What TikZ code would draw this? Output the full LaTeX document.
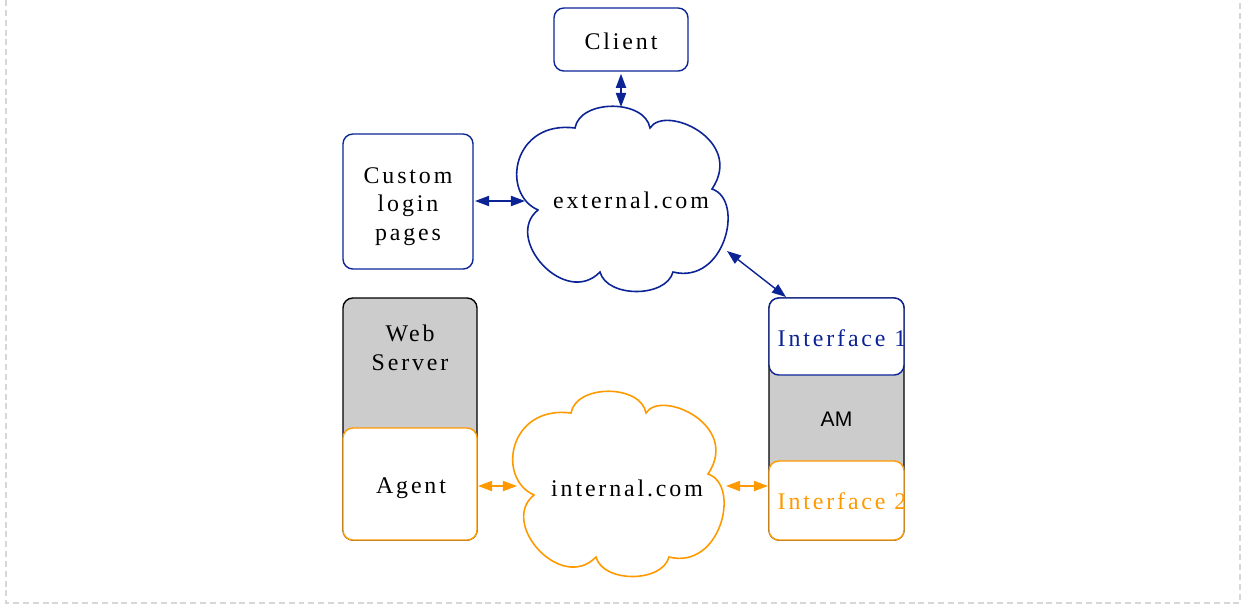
\documentclass[tikz,border=0pt]{standalone}
\usepackage{fontspec}
\newfontfamily\figfont[LetterSpace=12]{Liberation Serif}
\newfontfamily\amfont{Liberation Sans}
\usetikzlibrary{arrows.meta}
\definecolor{figblue}{RGB}{12,35,150}
\definecolor{figorange}{RGB}{255,153,0}
\definecolor{figgray}{RGB}{204,204,204}
\definecolor{framegray}{RGB}{215,215,215}
\tikzset{
  mycloud/.pic={
    \path[pic actions] (0,0) .. controls (5,-29) and (70,-29) .. (75,0)
      .. controls (90,-24) and (170,12) .. (137,61)
      .. controls (170,72) and (150,157) .. (98,144)
      .. controls (91,170) and (32,170) .. (25,144)
      .. controls (-10,180) and (-72,110) .. (-37,82)
      .. controls (-75,65) and (-62,-8) .. cycle;
  }
}
\begin{document}
\begin{tikzpicture}[x=0.1mm,y=-0.1mm,
  box/.style={draw, rounded corners=2.8pt, line width=0.4pt, inner sep=0pt},
  lbl/.style={font=\figfont\fontsize{6.8}{8.2}\selectfont, align=center, inner sep=0pt},
  conn/.style={line width=0.4pt, {Triangle[length=4pt,width=2.9pt]}-{Triangle[length=4pt,width=2.9pt]}},
  cloudline/.style={line width=0.45pt, fill=white}
]
\useasboundingbox (0,0) rectangle (1246,605);
% frame
\draw[framegray, line width=0.45pt, dash pattern=on 1.7pt off 1.1pt] (6,0) -- (6,603) -- (1240,603) -- (1240,0);

% clouds
\pic[draw=figblue, cloudline] at (575,128) {mycloud};
\pic[draw=figorange, cloudline] at (571,413) {mycloud};
\node[lbl] (ext) at (631,200) {external.com};
\node[lbl] (int) at (627,488) {internal.com};

% boxes
\node[box, draw=figblue, minimum width=13.4mm, minimum height=6.3mm] (client) at (621,39.5) {};
\node[lbl] (clienttext) at (621,41.5) {Client};
\node[box, draw=figblue, minimum width=13.0mm, minimum height=13.5mm] (custom) at (408,201.5) {};
\node[lbl] (customtext) at (408,206.5) {Custom\\login\\pages};

\node[box, draw=black, fill=figgray, minimum width=13.4mm, minimum height=24.2mm] (ws) at (410,419) {};
\node[lbl] (wstext) at (410,347.5) {Web\\Server};
\node[box, draw=figorange, fill=white, minimum width=13.4mm, minimum height=11.2mm] (agent) at (410,484) {};
\node[lbl] (agenttext) at (411,488) {Agent};

\node[box, draw=black, fill=figgray, minimum width=13.5mm, minimum height=24.2mm, font=\amfont\fontsize{6}{7}\selectfont] (am) at (836.5,419) {AM};
\node[box, draw=figblue, fill=white, minimum width=13.5mm, minimum height=7.7mm] (if1) at (836.5,336.5) {};
\node[box, draw=figorange, fill=white, minimum width=13.5mm, minimum height=7.9mm] (if2) at (836.5,500.5) {};
\begin{scope}
  \clip (769,298) rectangle (906,540);
  \node[lbl, anchor=base west, text=figblue] (if1text) at (777,346) {Interface 1};
  \node[lbl, anchor=base west, text=figorange] (if2text) at (777,509) {Interface 2};
\end{scope}

% connector end points
\coordinate (extTop) at (621,107);
\coordinate (extLeft) at (525,201);
\coordinate (extSE) at (727,251);
\coordinate (if1top) at (786,297);
\coordinate (intLeft) at (517,486);
\coordinate (intRight) at (726,486);
\coordinate (if2in) at (768,486);
\coordinate (agentout) at (478,486);
\coordinate (customout) at (475,201);

% connectors
\draw[conn, figblue, shorten <=0.6pt] (client.south) -- (extTop);
\draw[conn, figblue] (customout) -- (extLeft);
\draw[conn, figblue] (extSE) -- (if1top);
\draw[conn, figorange] (agentout) -- (intLeft);
\draw[conn, figorange] (intRight) -- (if2in);
\end{tikzpicture}
\end{document}
